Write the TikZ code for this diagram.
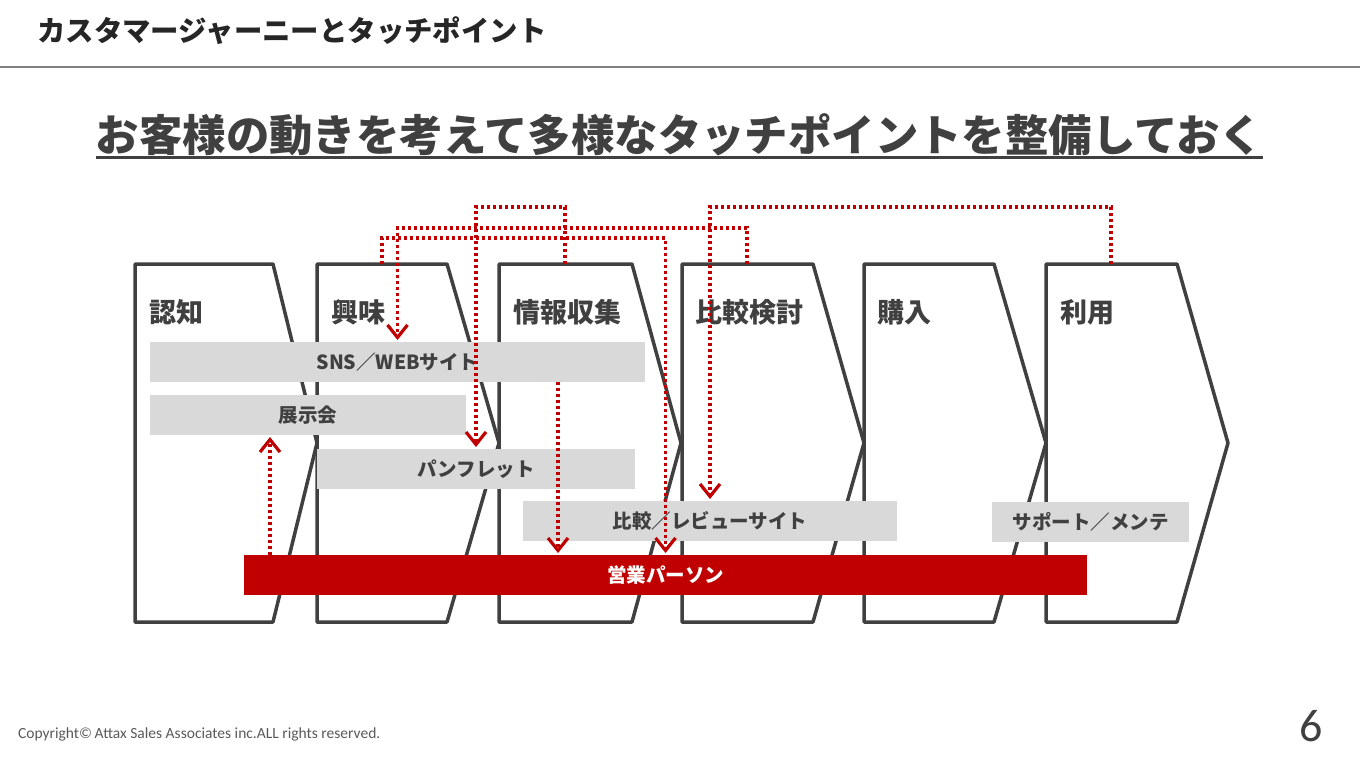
\documentclass[tikz,border=0pt]{standalone}
\usepackage{fontspec}
\setmainfont{Noto Sans CJK JP}
\newfontfamily\carl{Carlito}
\usetikzlibrary{arrows.meta}
\definecolor{dred}{HTML}{C00000}
\definecolor{dgray}{HTML}{404040}
\definecolor{lgray}{HTML}{D9D9D9}
\definecolor{lineg}{HTML}{808080}
\definecolor{tblack}{HTML}{262626}
\definecolor{cgray}{HTML}{595959}
\begin{document}
\begin{tikzpicture}[x=1pt,y=-1pt,
  chev/.style={draw=dgray, line width=3.5pt, line join=round},
  gbox/.style={fill=lgray, inner sep=0pt, outer sep=0pt, anchor=north west, text=dgray,
    font=\bfseries\fontsize{19.5}{19.5}\selectfont},
  rbox/.style={gbox, fill=dred, text=white},
  stage/.style={anchor=west, inner sep=0pt, text=dgray, font=\bfseries\fontsize{27}{27}\selectfont},
  conn/.style={draw=dred, line width=3.4pt, dash pattern=on 3.4pt off 2.6pt,
    -{Straight Barb[length=12.5pt,width=20pt,line width=3.2pt]}, shorten >=2pt}
]
\useasboundingbox (0,0) rectangle (1360,766);
% header
\node[anchor=west, inner sep=0pt, text=tblack, font=\bfseries\fontsize{28.4}{28.4}\selectfont] (title) at (37,31) {カスタマージャーニーとタッチポイント};
\draw[lineg, line width=2pt] (0,67) -- (1360,67);
\node[inner sep=0pt, text=dgray, font=\bfseries\fontsize{43.4}{43.4}\selectfont] (head) at (679.5,135) {お客様の動きを考えて多様なタッチポイントを整備しておく};
\coordinate (ul0) at (0,157);
\draw[dgray, line width=3pt] (head.west |- ul0) -- (head.east |- ul0);
% chevrons
\foreach \L/\T in {135/273, 317/447, 499/632, 682/813, 864/994, 1046/1177}{
  \draw[chev] (\L,264) -- (\T,264) -- (\L+182,443) -- (\T,622) -- (\L,622) -- cycle;
}
\node[stage] (s1) at (149,312) {認知};
\node[stage] (s2) at (331,312) {興味};
\node[stage] (s3) at (513,312) {情報収集};
\node[stage] (s4) at (695,312) {比較検討};
\node[stage] (s5) at (877,312) {購入};
\node[stage] (s6) at (1060,312) {利用};
% boxes
\node[gbox, minimum width=495, minimum height=40] (sns) at (150,342) {SNS／WEBサイト};
\node[gbox, minimum width=316, minimum height=40] (tenji) at (150,395) {展示会};
\node[gbox, minimum width=318, minimum height=40] (pamph) at (317,449) {パンフレット};
\node[gbox, minimum width=374, minimum height=40] (cmp) at (523,501) {比較／レビューサイト};
\node[gbox, minimum width=197, minimum height=40] (sup) at (992,502) {サポート／メンテ};
\node[rbox, minimum width=843, minimum height=40] (eig) at (244,555) {営業パーソン};
% connector anchors
\coordinate (c2p) at (382,264);
\coordinate (k2) at (382,238);
\coordinate (c3p) at (565,264);
\coordinate (k3) at (565,207);
\coordinate (c4p) at (747,264);
\coordinate (k1) at (747,228);
\coordinate (c6p) at (1111,264);
\coordinate (k4) at (1111,207);
\coordinate (x270) at (270,0);
\coordinate (x558) at (558,0);
% connectors
\draw[conn] (c4p) -- (k1) -| (sns.north);
\draw[conn] (c2p) -- (k2) -| (eig.north);
\draw[conn] (c3p) -- (k3) -| (pamph.north);
\draw[conn] (c6p) -- (k4) -| (cmp.north);
\draw[conn] (eig.north -| x270) -- (tenji.south -| x270);
\draw[conn] (sns.south -| x558) -- (eig.north -| x558);
% footer
\node[anchor=west, inner sep=0pt, text=cgray, font=\carl\fontsize{15.5}{15.5}\selectfont] (copy) at (18,734) {Copyright©\,Attax Sales Associates inc.ALL rights reserved.};
\node[inner sep=0pt, text=dgray, font=\carl\fontsize{46}{46}\selectfont] (pg) at (1311,726) {6};
\end{tikzpicture}
\end{document}
